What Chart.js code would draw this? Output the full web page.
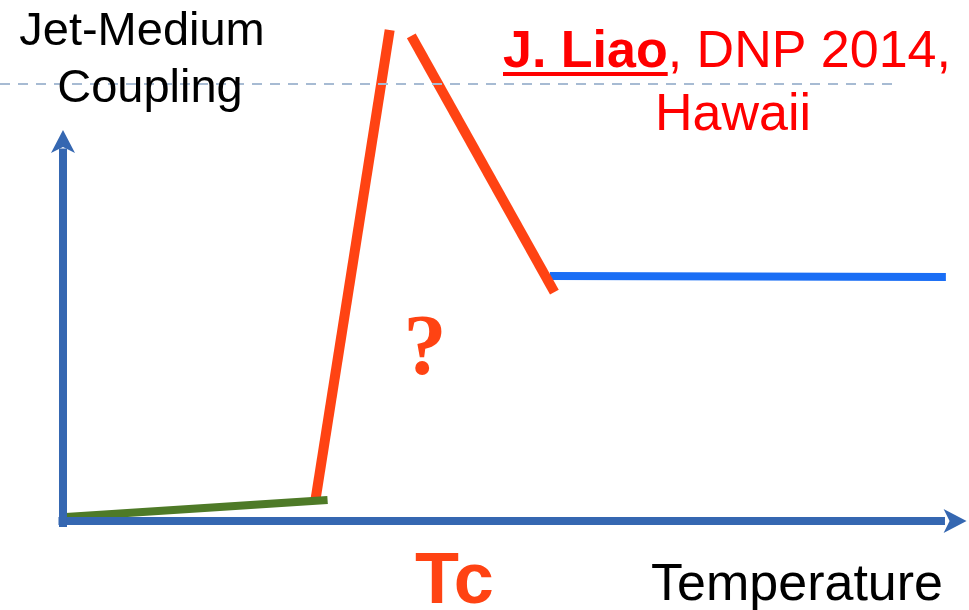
<!DOCTYPE html>
<html lang="en">
<head>
    <meta charset="UTF-8">
    <title>Jet-Medium Coupling</title>
    <style>
        body { margin: 0; background: #fff; }
        #wrap { width: 969px; height: 610px; position: relative; }
    </style>
</head>
<body>
    <div id="wrap">
        <canvas id="myChart"></canvas>
    </div>

    <script src="https://cdn.jsdelivr.net/npm/chart.js"></script>

    <script>
        // schematic curve pieces, in (temperature, coupling) units
        let hadronT = [0.3, 29.4];
        let hadronC = [0.8, 4.3];
        let riseT = [28, 36.3];
        let riseC = [3.7, 100.2];
        let fallT = [38.7, 54.6];
        let fallC = [99, 46.7];
        let qgpT = [54.1, 98.1];
        let qgpC = [50, 49.8];
        let refT = [-7, 92.4];
        let refC = [89.2, 89.2];

        // axis arrows
        let yAxisT = [0, 0];
        let yAxisC = [-1.2, 76];
        let xAxisT = [-0.5, 98];
        let xAxisC = [0, 0];
        let yArrowTip = 79.8;
        let xArrowTip = 100.4;

        function pts(xs, ys) {
            return xs.map((x, i) => ({ x: x, y: ys[i] }));
        }

        const axisColor = '#3567b1';

        // draws arrow heads and the text labels
        const decorations = {
            id: 'decorations',
            afterDatasetsDraw(chart) {
                const c = chart.ctx;
                const xs = chart.scales.x;
                const ys = chart.scales.y;
                const px = v => xs.getPixelForValue(v);
                const py = v => ys.getPixelForValue(v);

                c.save();
                c.fillStyle = axisColor;
                // y arrow
                let tx = px(0), ty = py(yArrowTip);
                c.beginPath();
                c.moveTo(tx, ty);
                c.lineTo(tx + 12, ty + 23);
                c.lineTo(tx, ty + 17);
                c.lineTo(tx - 12, ty + 23);
                c.closePath();
                c.fill();
                // x arrow
                tx = px(xArrowTip); ty = py(0);
                c.beginPath();
                c.moveTo(tx, ty);
                c.lineTo(tx - 23, ty - 12);
                c.lineTo(tx - 17, ty);
                c.lineTo(tx - 23, ty + 12);
                c.closePath();
                c.fill();

                // texts
                c.textBaseline = 'alphabetic';
                c.fillStyle = '#000';
                c.font = '47px "Liberation Sans", Arial, sans-serif';
                c.textAlign = 'center';
                c.fillText('Jet-Medium', 142, 45);
                c.fillText('Coupling', 150, 102);

                c.fillStyle = '#ff0000';
                c.textAlign = 'left';
                c.font = 'bold 52px "Liberation Sans", Arial, sans-serif';
                let w1 = c.measureText('J. Liao').width;
                c.fillText('J. Liao', 503, 67);
                c.fillRect(503, 72, w1, 4);
                c.font = '52px "Liberation Sans", Arial, sans-serif';
                c.fillText(', DNP 2014,', 503 + w1, 67);
                c.textAlign = 'center';
                c.fillText('Hawaii', 733, 130);

                c.fillStyle = '#ff4313';
                c.font = 'bold 86px "Liberation Serif", "Times New Roman", serif';
                c.fillText('?', 425, 374);
                c.textAlign = 'left';
                c.font = 'bold 72px "Liberation Sans", Arial, sans-serif';
                c.fillText('Tc', 415, 603);

                c.fillStyle = '#000';
                c.textAlign = 'right';
                c.font = '52px "Liberation Sans", Arial, sans-serif';
                c.fillText('Temperature', 943, 600);
                c.restore();
            }
        };

        const ctx = document.getElementById('myChart');

        let datasets = [
            { data: pts(refT, refC), borderColor: '#a7bbd3', borderWidth: 2, borderDash: [10, 8] },
            { data: pts(yAxisT, yAxisC), borderColor: axisColor, borderWidth: 8 },
            { data: pts(xAxisT, xAxisC), borderColor: axisColor, borderWidth: 8 },
            { data: pts(hadronT, hadronC), borderColor: '#4e7a27', borderWidth: 8 },
            { data: pts(riseT, riseC), borderColor: '#ff4313', borderWidth: 10 },
            { data: pts(fallT, fallC), borderColor: '#ff4313', borderWidth: 10 },
            { data: pts(qgpT, qgpC), borderColor: '#1a6ef5', borderWidth: 8 },
        ];

        let options = {
            responsive: true,
            maintainAspectRatio: false,
            animation: false,
            layout: { padding: 0, autoPadding: false },
            plugins: { legend: { display: false }, tooltip: { enabled: false } },
            elements: { point: { radius: 0 }, line: { tension: 0, borderCapStyle: 'butt' } },
            scales: {
                x: { type: 'linear', min: -7, max: 100.67, display: false },
                y: { type: 'linear', min: -18.16, max: 106.33, display: false }
            }
        };

        let chart = new Chart(ctx, {
            type: 'scatter',
            data: { datasets: datasets.map(d => Object.assign({ showLine: true, fill: false }, d)) },
            options: options,
            plugins: [decorations]
        });
    </script>
</body>
</html>
